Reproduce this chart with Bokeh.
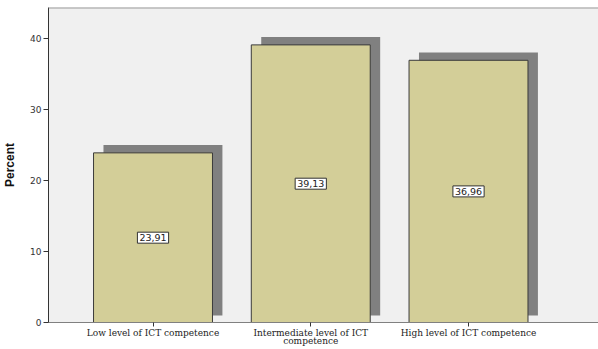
from bokeh.plotting import figure
from bokeh.models import ColumnDataSource, FixedTicker, Span, Range1d
from bokeh.core.properties import value
from bokeh.embed import file_html
from bokeh.resources import INLINE

# Data
categories = ["Low level of ICT competence",
              "Intermediate level of ICT\ncompetence",
              "High level of ICT competence"]
percent = [23.91, 39.13, 36.96]
value_labels = ["23,91", "39,13", "36,96"]
y_ticks = [0, 10, 20, 30, 40]

x = list(range(len(categories)))
bar_w = 0.754
shadow_dx = 0.063
shadow_dy = 1.1

src = ColumnDataSource(dict(
    x=x,
    top=percent,
    mid=[v / 2 for v in percent],
    sx=[i + shadow_dx for i in x],
    stop=[v + shadow_dy for v in percent],
    sbot=[shadow_dy * 0.9] * len(x),
    lab=value_labels,
))

p = figure(width=598, height=349, output_backend="svg", toolbar_location=None,
           x_range=Range1d(-0.6625, 2.824), y_range=Range1d(0, 44.4),
           min_border_left=48, min_border_right=0, min_border_top=7,
           min_border_bottom=26)
p.background_fill_color = "#f0f0f0"
p.border_fill_color = "white"
p.outline_line_color = None
p.xgrid.visible = False
p.ygrid.visible = False

# shadows
p.vbar(x="sx", top="stop", bottom="sbot", width=bar_w, source=src,
       fill_color="#808080", line_color=None)
# bars
p.vbar(x="x", top="top", bottom=0, width=bar_w, source=src,
       fill_color="#d3ce98", line_color="#3a3a3a", line_width=1)

p.text(x="x", y="mid", text="lab", source=src,
       text_align="center", text_baseline="middle",
       text_font=value("DejaVu Sans"), text_font_size="9.5px", text_color="#222222",
       background_fill_color="white", border_line_color="#333333",
       border_line_width=1, padding=2)

p.add_layout(Span(location=44.4, dimension="width", line_color="#999999", line_width=2))

# y axis
ya = p.yaxis[0]
ya.ticker = FixedTicker(ticks=y_ticks)
ya.minor_tick_line_color = None
ya.major_tick_out = 5
ya.major_tick_in = 0
ya.axis_line_color = "#333333"
ya.major_tick_line_color = "#333333"
ya.major_label_text_font = "DejaVu Sans"
ya.major_label_text_font_size = "9px"
ya.major_label_text_color = "#333333"
ya.major_label_standoff = 2
ya.axis_label = "Percent"
ya.axis_label_text_font = "Liberation Sans"
ya.axis_label_text_font_style = "bold"
ya.axis_label_text_font_size = "12px"
ya.axis_label_text_color = "#111111"
ya.axis_label_standoff = 10

# x axis
xa = p.xaxis[0]
xa.ticker = FixedTicker(ticks=x)
xa.major_label_overrides = {i: c for i, c in zip(x, categories)}
xa.minor_tick_line_color = None
xa.major_tick_out = 4
xa.major_tick_in = 0
xa.axis_line_color = "#808080"
xa.major_tick_line_color = "#333333"
xa.major_label_text_font = "DejaVu Serif"
xa.major_label_text_font_size = "9px"
xa.major_label_text_color = "#222222"
xa.major_label_standoff = 1
xa.major_label_text_line_height = 0.85

open("out.html", "w").write(file_html(p, INLINE))
